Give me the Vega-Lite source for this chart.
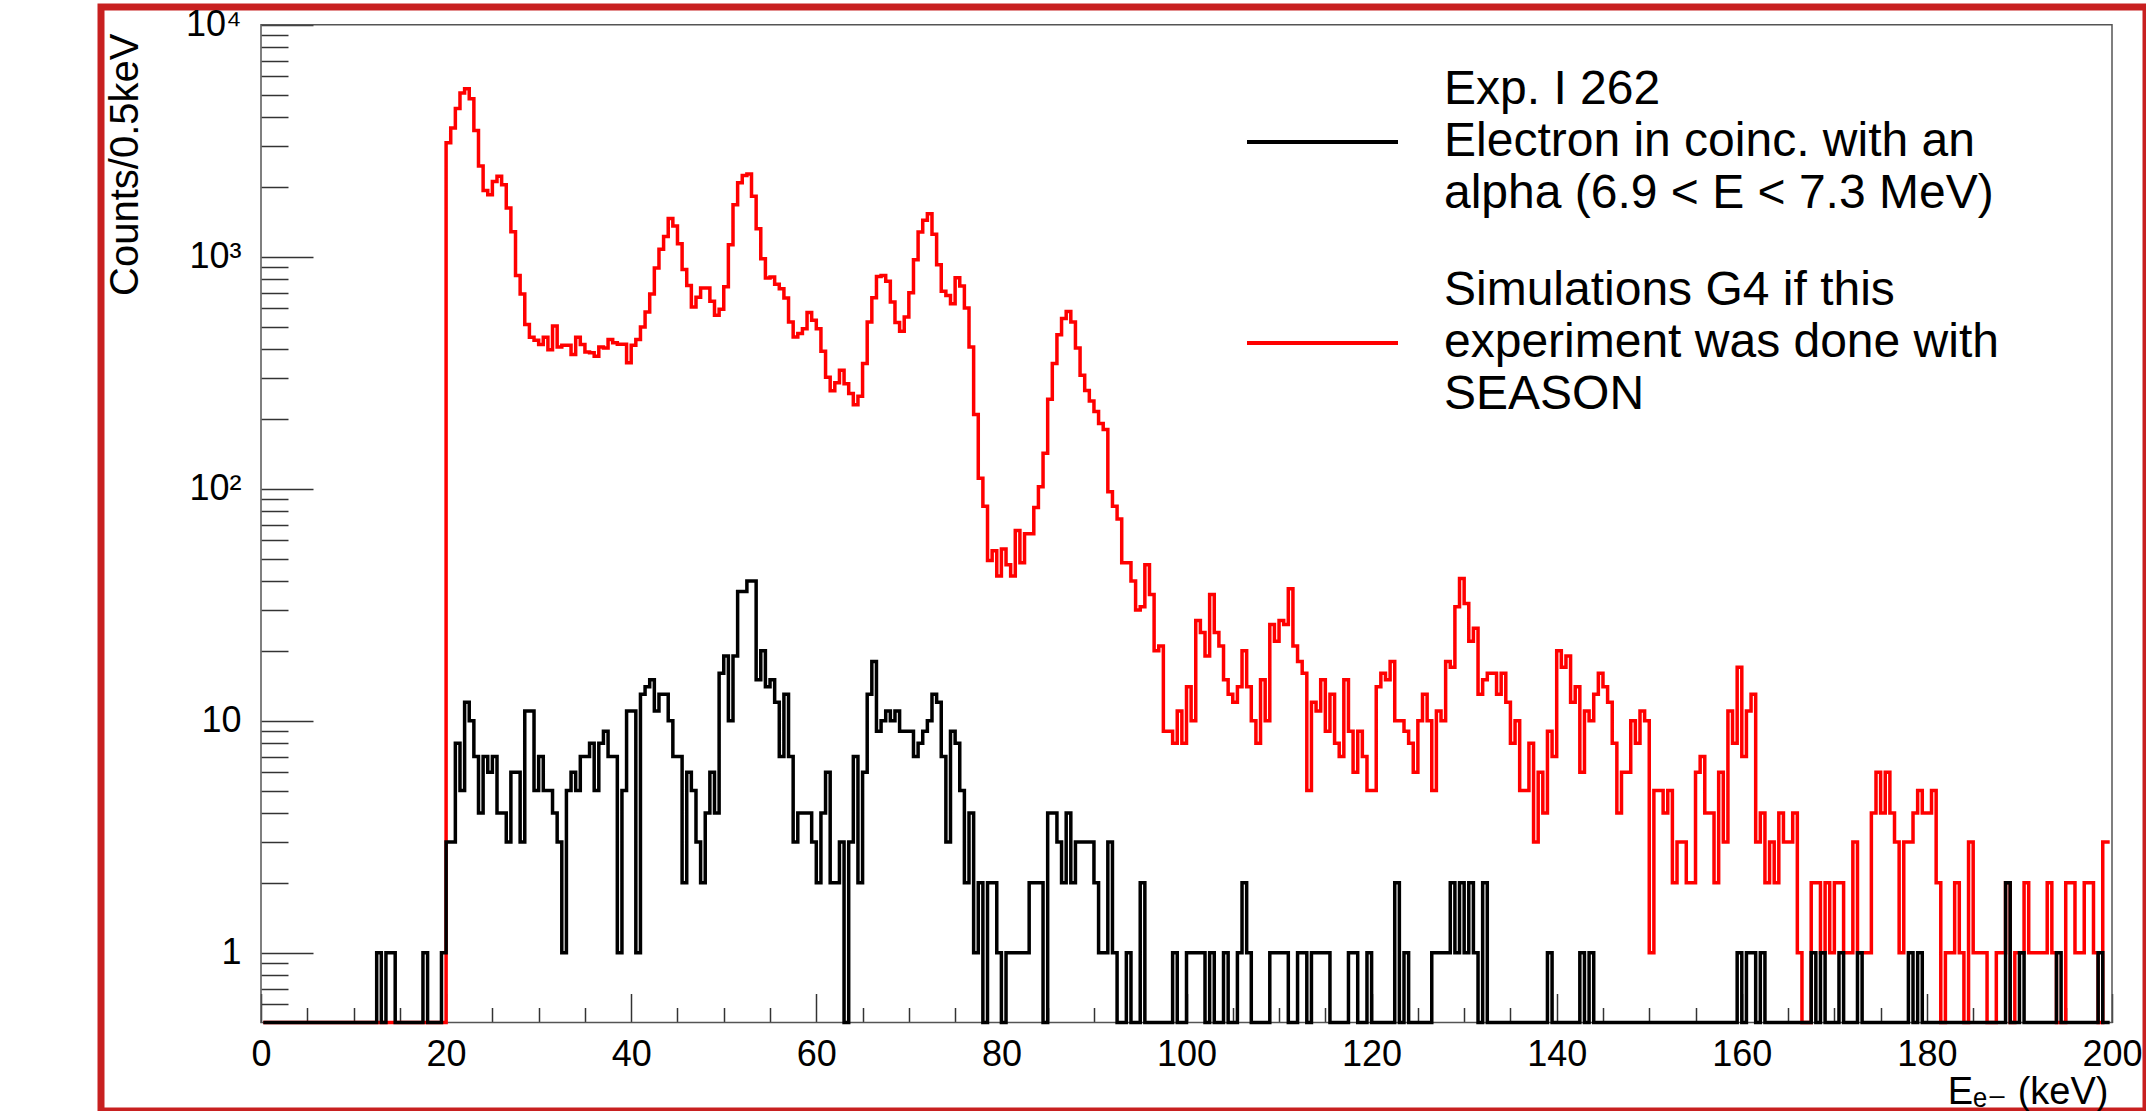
{
"$schema": "https://vega.github.io/schema/vega-lite/v6.json",
"width": 2045, "height": 1104,
"padding": {"left": 101, "top": 7, "right": 0, "bottom": 0},
"autosize": {"type": "none"},
"background": "white",
"config": {
 "font": "Liberation Sans",
 "view": {"stroke": "#c82020", "strokeWidth": 7},
 "style": {"guide-label": {"lineHeight": 52}},
 "axis": {"grid": false, "domain": false, "tickColor": "#333333", "tickWidth": 1.5, "labelFont": "Liberation Sans, DejaVu Sans", "titleFont": "Liberation Sans, DejaVu Sans", "labelColor": "#000000", "titleColor": "#000000", "labelFontSize": 36, "titleFontSize": 40, "titleFontWeight": "normal", "labelFlush": false, "labelOverlap": false, "labelBound": false}
},
"layer": [
 {
  "data": {"values": [{}]},
  "mark": {"type": "rect", "fill": null, "stroke": "#555555", "strokeWidth": 1.5},
  "encoding": {
   "x": {"datum": 0, "type": "quantitative", "scale": {"domain": [0, 200], "range": [160, 2011]}},
   "x2": {"datum": 200},
   "y": {"datum": 0.5, "type": "quantitative", "scale": {"type": "log", "domain": [0.5, 10000], "range": [1015.5, 17.7], "clamp": true}},
   "y2": {"datum": 10000}
  }
 },
 {
  "data": {"values": [
{"e":0.25,"sim":0,"exp":0},{"e":0.75,"sim":0,"exp":0},{"e":1.25,"sim":0,"exp":0},{"e":1.75,"sim":0,"exp":0},{"e":2.25,"sim":0,"exp":0},{"e":2.75,"sim":0,"exp":0},{"e":3.25,"sim":0,"exp":0},{"e":3.75,"sim":0,"exp":0},{"e":4.25,"sim":0,"exp":0},{"e":4.75,"sim":0,"exp":0},
{"e":5.25,"sim":0,"exp":0},{"e":5.75,"sim":0,"exp":0},{"e":6.25,"sim":0,"exp":0},{"e":6.75,"sim":0,"exp":0},{"e":7.25,"sim":0,"exp":0},{"e":7.75,"sim":0,"exp":0},{"e":8.25,"sim":0,"exp":0},{"e":8.75,"sim":0,"exp":0},{"e":9.25,"sim":0,"exp":0},{"e":9.75,"sim":0,"exp":0},
{"e":10.25,"sim":0,"exp":0},{"e":10.75,"sim":0,"exp":0},{"e":11.25,"sim":0,"exp":0},{"e":11.75,"sim":0,"exp":0},{"e":12.25,"sim":0,"exp":0},{"e":12.75,"sim":0,"exp":1},{"e":13.25,"sim":0,"exp":0},{"e":13.75,"sim":0,"exp":1},{"e":14.25,"sim":0,"exp":1},{"e":14.75,"sim":0,"exp":0},
{"e":15.25,"sim":0,"exp":0},{"e":15.75,"sim":0,"exp":0},{"e":16.25,"sim":0,"exp":0},{"e":16.75,"sim":0,"exp":0},{"e":17.25,"sim":0,"exp":0},{"e":17.75,"sim":0,"exp":1},{"e":18.25,"sim":0,"exp":0},{"e":18.75,"sim":0,"exp":0},{"e":19.25,"sim":0,"exp":0},{"e":19.75,"sim":0,"exp":1},
{"e":20.25,"sim":3100,"exp":3},{"e":20.75,"sim":3590,"exp":3},{"e":21.25,"sim":4350,"exp":8},{"e":21.75,"sim":5080,"exp":5},{"e":22.25,"sim":5300,"exp":12},{"e":22.75,"sim":4800,"exp":10},{"e":23.25,"sim":3500,"exp":7},{"e":23.75,"sim":2460,"exp":4},{"e":24.25,"sim":1930,"exp":7},{"e":24.75,"sim":1850,"exp":6},
{"e":25.25,"sim":2110,"exp":7},{"e":25.75,"sim":2220,"exp":4},{"e":26.25,"sim":2040,"exp":4},{"e":26.75,"sim":1620,"exp":3},{"e":27.25,"sim":1280,"exp":6},{"e":27.75,"sim":830,"exp":6},{"e":28.25,"sim":690,"exp":3},{"e":28.75,"sim":510,"exp":11},{"e":29.25,"sim":450,"exp":11},{"e":29.75,"sim":436,"exp":5},
{"e":30.25,"sim":418,"exp":7},{"e":30.75,"sim":450,"exp":5},{"e":31.25,"sim":397,"exp":5},{"e":31.75,"sim":503,"exp":4},{"e":32.25,"sim":408,"exp":3},{"e":32.75,"sim":415,"exp":1},{"e":33.25,"sim":415,"exp":5},{"e":33.75,"sim":379,"exp":6},{"e":34.25,"sim":450,"exp":5},{"e":34.75,"sim":418,"exp":7},
{"e":35.25,"sim":388,"exp":7},{"e":35.75,"sim":385,"exp":8},{"e":36.25,"sim":372,"exp":5},{"e":36.75,"sim":408,"exp":8},{"e":37.25,"sim":404,"exp":9},{"e":37.75,"sim":440,"exp":7},{"e":38.25,"sim":426,"exp":7},{"e":38.75,"sim":419,"exp":1},{"e":39.25,"sim":419,"exp":5},{"e":39.75,"sim":349,"exp":11},
{"e":40.25,"sim":415,"exp":11},{"e":40.75,"sim":440,"exp":1},{"e":41.25,"sim":498,"exp":13},{"e":41.75,"sim":577,"exp":14},{"e":42.25,"sim":690,"exp":15},{"e":42.75,"sim":894,"exp":11},{"e":43.25,"sim":1076,"exp":13},{"e":43.75,"sim":1223,"exp":13},{"e":44.25,"sim":1460,"exp":10},{"e":44.75,"sim":1356,"exp":7},
{"e":45.25,"sim":1138,"exp":7},{"e":45.75,"sim":881,"exp":2},{"e":46.25,"sim":752,"exp":6},{"e":46.75,"sim":607,"exp":5},{"e":47.25,"sim":668,"exp":3},{"e":47.75,"sim":733,"exp":2},{"e":48.25,"sim":733,"exp":4},{"e":48.75,"sim":642,"exp":6},{"e":49.25,"sim":559,"exp":4},{"e":49.75,"sim":593,"exp":16},
{"e":50.25,"sim":742,"exp":19},{"e":50.75,"sim":1127,"exp":10},{"e":51.25,"sim":1675,"exp":19},{"e":51.75,"sim":2084,"exp":36},{"e":52.25,"sim":2240,"exp":36},{"e":52.75,"sim":2270,"exp":40},{"e":53.25,"sim":1820,"exp":40},{"e":53.75,"sim":1320,"exp":15},{"e":54.25,"sim":980,"exp":20},{"e":54.75,"sim":809,"exp":14},
{"e":55.25,"sim":817,"exp":15},{"e":55.75,"sim":760,"exp":12},{"e":56.25,"sim":728,"exp":7},{"e":56.75,"sim":664,"exp":13},{"e":57.25,"sim":523,"exp":7},{"e":57.75,"sim":451,"exp":3},{"e":58.25,"sim":466,"exp":4},{"e":58.75,"sim":489,"exp":4},{"e":59.25,"sim":574,"exp":4},{"e":59.75,"sim":532,"exp":3},
{"e":60.25,"sim":489,"exp":2},{"e":60.75,"sim":391,"exp":4},{"e":61.25,"sim":302,"exp":6},{"e":61.75,"sim":264,"exp":2},{"e":62.25,"sim":286,"exp":2},{"e":62.75,"sim":324,"exp":3},{"e":63.25,"sim":283,"exp":0},{"e":63.75,"sim":257,"exp":3},{"e":64.25,"sim":230,"exp":7},{"e":64.75,"sim":250,"exp":2},
{"e":65.25,"sim":346,"exp":6},{"e":65.75,"sim":523,"exp":13},{"e":66.25,"sim":666,"exp":18},{"e":66.75,"sim":822,"exp":9},{"e":67.25,"sim":830,"exp":10},{"e":67.75,"sim":783,"exp":11},{"e":68.25,"sim":638,"exp":10},{"e":68.75,"sim":520,"exp":11},{"e":69.25,"sim":477,"exp":9},{"e":69.75,"sim":550,"exp":9},
{"e":70.25,"sim":700,"exp":9},{"e":70.75,"sim":970,"exp":7},{"e":71.25,"sim":1278,"exp":8},{"e":71.75,"sim":1434,"exp":9},{"e":72.25,"sim":1532,"exp":10},{"e":72.75,"sim":1248,"exp":13},{"e":73.25,"sim":924,"exp":12},{"e":73.75,"sim":709,"exp":7},{"e":74.25,"sim":681,"exp":3},{"e":74.75,"sim":627,"exp":9},
{"e":75.25,"sim":811,"exp":8},{"e":75.75,"sim":748,"exp":5},{"e":76.25,"sim":601,"exp":2},{"e":76.75,"sim":408,"exp":4},{"e":77.25,"sim":209,"exp":1},{"e":77.75,"sim":111,"exp":2},{"e":78.25,"sim":84,"exp":0},{"e":78.75,"sim":49,"exp":2},{"e":79.25,"sim":54,"exp":2},{"e":79.75,"sim":42,"exp":1},
{"e":80.25,"sim":55,"exp":0},{"e":80.75,"sim":47,"exp":1},{"e":81.25,"sim":42,"exp":1},{"e":81.75,"sim":66,"exp":1},{"e":82.25,"sim":48,"exp":1},{"e":82.75,"sim":64,"exp":1},{"e":83.25,"sim":64,"exp":2},{"e":83.75,"sim":83,"exp":2},{"e":84.25,"sim":102,"exp":2},{"e":84.75,"sim":142,"exp":0},
{"e":85.25,"sim":243,"exp":4},{"e":85.75,"sim":346,"exp":4},{"e":86.25,"sim":461,"exp":3},{"e":86.75,"sim":541,"exp":2},{"e":87.25,"sim":581,"exp":4},{"e":87.75,"sim":523,"exp":2},{"e":88.25,"sim":404,"exp":3},{"e":88.75,"sim":308,"exp":3},{"e":89.25,"sim":265,"exp":3},{"e":89.75,"sim":239,"exp":3},
{"e":90.25,"sim":215,"exp":2},{"e":90.75,"sim":191,"exp":1},{"e":91.25,"sim":180,"exp":1},{"e":91.75,"sim":97,"exp":3},{"e":92.25,"sim":84,"exp":1},{"e":92.75,"sim":74,"exp":0},{"e":93.25,"sim":48,"exp":0},{"e":93.75,"sim":48,"exp":1},{"e":94.25,"sim":40,"exp":0},{"e":94.75,"sim":30,"exp":0},
{"e":95.25,"sim":31,"exp":2},{"e":95.75,"sim":47,"exp":0},{"e":96.25,"sim":35,"exp":0},{"e":96.75,"sim":20,"exp":0},{"e":97.25,"sim":21,"exp":0},{"e":97.75,"sim":9,"exp":0},{"e":98.25,"sim":9,"exp":0},{"e":98.75,"sim":8,"exp":1},{"e":99.25,"sim":11,"exp":0},{"e":99.75,"sim":8,"exp":0},
{"e":100.25,"sim":14,"exp":1},{"e":100.75,"sim":10,"exp":1},{"e":101.25,"sim":27,"exp":1},{"e":101.75,"sim":24,"exp":1},{"e":102.25,"sim":19,"exp":0},{"e":102.75,"sim":35,"exp":1},{"e":103.25,"sim":24,"exp":0},{"e":103.75,"sim":21,"exp":0},{"e":104.25,"sim":15,"exp":1},{"e":104.75,"sim":13,"exp":0},
{"e":105.25,"sim":12,"exp":0},{"e":105.75,"sim":14,"exp":1},{"e":106.25,"sim":20,"exp":2},{"e":106.75,"sim":14,"exp":1},{"e":107.25,"sim":10,"exp":0},{"e":107.75,"sim":8,"exp":0},{"e":108.25,"sim":15,"exp":0},{"e":108.75,"sim":10,"exp":0},{"e":109.25,"sim":26,"exp":1},{"e":109.75,"sim":22,"exp":1},
{"e":110.25,"sim":27,"exp":1},{"e":110.75,"sim":26,"exp":1},{"e":111.25,"sim":37,"exp":0},{"e":111.75,"sim":21,"exp":0},{"e":112.25,"sim":18,"exp":1},{"e":112.75,"sim":16,"exp":1},{"e":113.25,"sim":5,"exp":0},{"e":113.75,"sim":12,"exp":1},{"e":114.25,"sim":11,"exp":1},{"e":114.75,"sim":15,"exp":1},
{"e":115.25,"sim":9,"exp":1},{"e":115.75,"sim":13,"exp":0},{"e":116.25,"sim":8,"exp":0},{"e":116.75,"sim":7,"exp":0},{"e":117.25,"sim":15,"exp":0},{"e":117.75,"sim":9,"exp":1},{"e":118.25,"sim":6,"exp":1},{"e":118.75,"sim":9,"exp":0},{"e":119.25,"sim":7,"exp":0},{"e":119.75,"sim":5,"exp":1},
{"e":120.25,"sim":5,"exp":0},{"e":120.75,"sim":14,"exp":0},{"e":121.25,"sim":16,"exp":0},{"e":121.75,"sim":15,"exp":0},{"e":122.25,"sim":18,"exp":0},{"e":122.75,"sim":10,"exp":2},{"e":123.25,"sim":10,"exp":0},{"e":123.75,"sim":9,"exp":1},{"e":124.25,"sim":8,"exp":0},{"e":124.75,"sim":6,"exp":0},
{"e":125.25,"sim":10,"exp":0},{"e":125.75,"sim":13,"exp":0},{"e":126.25,"sim":10,"exp":0},{"e":126.75,"sim":5,"exp":1},{"e":127.25,"sim":11,"exp":1},{"e":127.75,"sim":10,"exp":1},{"e":128.25,"sim":18,"exp":1},{"e":128.75,"sim":17,"exp":2},{"e":129.25,"sim":31,"exp":1},{"e":129.75,"sim":41,"exp":2},
{"e":130.25,"sim":32,"exp":1},{"e":130.75,"sim":22,"exp":2},{"e":131.25,"sim":25,"exp":1},{"e":131.75,"sim":13,"exp":0},{"e":132.25,"sim":15,"exp":2},{"e":132.75,"sim":16,"exp":0},{"e":133.25,"sim":16,"exp":0},{"e":133.75,"sim":13,"exp":0},{"e":134.25,"sim":16,"exp":0},{"e":134.75,"sim":12,"exp":0},
{"e":135.25,"sim":8,"exp":0},{"e":135.75,"sim":10,"exp":0},{"e":136.25,"sim":5,"exp":0},{"e":136.75,"sim":5,"exp":0},{"e":137.25,"sim":8,"exp":0},{"e":137.75,"sim":3,"exp":0},{"e":138.25,"sim":6,"exp":0},{"e":138.75,"sim":4,"exp":0},{"e":139.25,"sim":9,"exp":1},{"e":139.75,"sim":7,"exp":0},
{"e":140.25,"sim":20,"exp":0},{"e":140.75,"sim":17,"exp":0},{"e":141.25,"sim":19,"exp":0},{"e":141.75,"sim":12,"exp":0},{"e":142.25,"sim":14,"exp":0},{"e":142.75,"sim":6,"exp":1},{"e":143.25,"sim":11,"exp":0},{"e":143.75,"sim":10,"exp":1},{"e":144.25,"sim":13,"exp":0},{"e":144.75,"sim":16,"exp":0},
{"e":145.25,"sim":14,"exp":0},{"e":145.75,"sim":12,"exp":0},{"e":146.25,"sim":8,"exp":0},{"e":146.75,"sim":4,"exp":0},{"e":147.25,"sim":6,"exp":0},{"e":147.75,"sim":6,"exp":0},{"e":148.25,"sim":10,"exp":0},{"e":148.75,"sim":8,"exp":0},{"e":149.25,"sim":11,"exp":0},{"e":149.75,"sim":10,"exp":0},
{"e":150.25,"sim":1,"exp":0},{"e":150.75,"sim":5,"exp":0},{"e":151.25,"sim":5,"exp":0},{"e":151.75,"sim":4,"exp":0},{"e":152.25,"sim":5,"exp":0},{"e":152.75,"sim":2,"exp":0},{"e":153.25,"sim":3,"exp":0},{"e":153.75,"sim":3,"exp":0},{"e":154.25,"sim":2,"exp":0},{"e":154.75,"sim":2,"exp":0},
{"e":155.25,"sim":6,"exp":0},{"e":155.75,"sim":7,"exp":0},{"e":156.25,"sim":4,"exp":0},{"e":156.75,"sim":4,"exp":0},{"e":157.25,"sim":2,"exp":0},{"e":157.75,"sim":6,"exp":0},{"e":158.25,"sim":3,"exp":0},{"e":158.75,"sim":11,"exp":0},{"e":159.25,"sim":8,"exp":0},{"e":159.75,"sim":17,"exp":1},
{"e":160.25,"sim":7,"exp":0},{"e":160.75,"sim":11,"exp":1},{"e":161.25,"sim":13,"exp":1},{"e":161.75,"sim":3,"exp":0},{"e":162.25,"sim":4,"exp":1},{"e":162.75,"sim":2,"exp":0},{"e":163.25,"sim":3,"exp":0},{"e":163.75,"sim":2,"exp":0},{"e":164.25,"sim":4,"exp":0},{"e":164.75,"sim":3,"exp":0},
{"e":165.25,"sim":3,"exp":0},{"e":165.75,"sim":4,"exp":0},{"e":166.25,"sim":1,"exp":0},{"e":166.75,"sim":0,"exp":0},{"e":167.25,"sim":0,"exp":0},{"e":167.75,"sim":2,"exp":1},{"e":168.25,"sim":2,"exp":0},{"e":168.75,"sim":1,"exp":1},{"e":169.25,"sim":2,"exp":0},{"e":169.75,"sim":1,"exp":0},
{"e":170.25,"sim":2,"exp":0},{"e":170.75,"sim":2,"exp":1},{"e":171.25,"sim":1,"exp":0},{"e":171.75,"sim":1,"exp":0},{"e":172.25,"sim":3,"exp":0},{"e":172.75,"sim":1,"exp":1},{"e":173.25,"sim":1,"exp":0},{"e":173.75,"sim":1,"exp":0},{"e":174.25,"sim":4,"exp":0},{"e":174.75,"sim":6,"exp":0},
{"e":175.25,"sim":4,"exp":0},{"e":175.75,"sim":6,"exp":0},{"e":176.25,"sim":4,"exp":0},{"e":176.75,"sim":3,"exp":0},{"e":177.25,"sim":1,"exp":0},{"e":177.75,"sim":3,"exp":0},{"e":178.25,"sim":3,"exp":1},{"e":178.75,"sim":4,"exp":0},{"e":179.25,"sim":5,"exp":1},{"e":179.75,"sim":4,"exp":0},
{"e":180.25,"sim":4,"exp":0},{"e":180.75,"sim":5,"exp":0},{"e":181.25,"sim":2,"exp":0},{"e":181.75,"sim":0,"exp":0},{"e":182.25,"sim":1,"exp":0},{"e":182.75,"sim":1,"exp":0},{"e":183.25,"sim":2,"exp":0},{"e":183.75,"sim":1,"exp":0},{"e":184.25,"sim":0,"exp":0},{"e":184.75,"sim":3,"exp":0},
{"e":185.25,"sim":1,"exp":0},{"e":185.75,"sim":1,"exp":0},{"e":186.25,"sim":1,"exp":0},{"e":186.75,"sim":0,"exp":0},{"e":187.25,"sim":0,"exp":0},{"e":187.75,"sim":1,"exp":0},{"e":188.25,"sim":1,"exp":0},{"e":188.75,"sim":2,"exp":2},{"e":189.25,"sim":0,"exp":0},{"e":189.75,"sim":1,"exp":0},
{"e":190.25,"sim":1,"exp":1},{"e":190.75,"sim":2,"exp":0},{"e":191.25,"sim":1,"exp":0},{"e":191.75,"sim":1,"exp":0},{"e":192.25,"sim":1,"exp":0},{"e":192.75,"sim":1,"exp":0},{"e":193.25,"sim":2,"exp":0},{"e":193.75,"sim":1,"exp":0},{"e":194.25,"sim":0,"exp":1},{"e":194.75,"sim":0,"exp":0},
{"e":195.25,"sim":2,"exp":0},{"e":195.75,"sim":2,"exp":0},{"e":196.25,"sim":1,"exp":0},{"e":196.75,"sim":1,"exp":0},{"e":197.25,"sim":2,"exp":0},{"e":197.75,"sim":2,"exp":0},{"e":198.25,"sim":1,"exp":0},{"e":198.75,"sim":0,"exp":1},{"e":199.25,"sim":3,"exp":0},{"e":199.75,"sim":3,"exp":0}
  ]},
  "transform": [{"fold": ["sim", "exp"], "as": ["series", "n"]}],
  "mark": {"type": "line", "interpolate": "step", "strokeWidth": 3.5},
  "encoding": {
   "x": {"field": "e", "type": "quantitative",
    "scale": {"domain": [0, 200], "range": [160, 2011]},
    "axis": {"title": "Eₑ₋ (keV)", "values": [0,5,10,15,20,25,30,35,40,45,50,55,60,65,70,75,80,85,90,95,100,105,110,115,120,125,130,135,140,145,150,155,160,165,170,175,180,185,190,195,200],
     "offset": -88.5,
     "tickSize": {"condition": {"test": "datum.value % 20 == 0", "value": -29}, "value": -15},
     "labelPadding": 43.5,
     "labelExpr": "datum.value % 20 == 0 ? datum.label : ''",
     "titleAlign": "right", "titleBaseline": "alphabetic", "titleX": 2007, "titleY": 80.5, "titleFontSize": 38}},
   "y": {"field": "n", "type": "quantitative",
    "scale": {"type": "log", "domain": [0.5, 10000], "range": [1015.5, 17.7], "clamp": true},
    "axis": {"title": "Counts/0.5keV",
     "values": [0.6,0.7,0.8,0.9,1,2,3,4,5,6,7,8,9,10,20,30,40,50,60,70,80,90,100,200,300,400,500,600,700,800,900,1000,2000,3000,4000,5000,6000,7000,8000,9000,10000],
     "offset": -160,
     "tickSize": {"condition": {"test": "datum.value == 1 || datum.value == 10 || datum.value == 100 || datum.value == 1000 || datum.value == 10000", "value": -52}, "value": -27},
     "labelPadding": 72,
     "labelExpr": "datum.value == 10000 ? '10⁴' : datum.value == 1000 ? '10³' : datum.value == 100 ? '10²' : datum.value == 10 ? '10' : datum.value == 1 ? '1' : ''",
     "titleAngle": 270, "titleAlign": "right", "titleBaseline": "alphabetic", "titleX": -124, "titleY": 26, "titleFontSize": 40}},
   "color": {"field": "series", "type": "nominal",
    "scale": {"domain": ["exp", "sim"], "range": ["#000000", "#ff0000"]},
    "legend": {"orient": "none", "legendX": 1144, "legendY": 57.5, "title": null, "padding": 0,
     "symbolType": "stroke", "symbolSize": 22801, "symbolStrokeWidth": 4,
     "labelFont": "Liberation Sans", "labelFontSize": 48, "labelColor": "#000000", "labelOffset": 44, "labelLimit": 0, "rowPadding": 47,
     "encoding": {"labels": {"dy": {"value": -52}, "lineHeight": {"value": 52}}},
     "labelExpr": "datum.value == 'exp' ? ['Exp. I 262', 'Electron in coinc. with an', 'alpha (6.9 < E < 7.3 MeV)'] : ['Simulations G4 if this', 'experiment was done with', 'SEASON']"}}
  }
 }
]
}
